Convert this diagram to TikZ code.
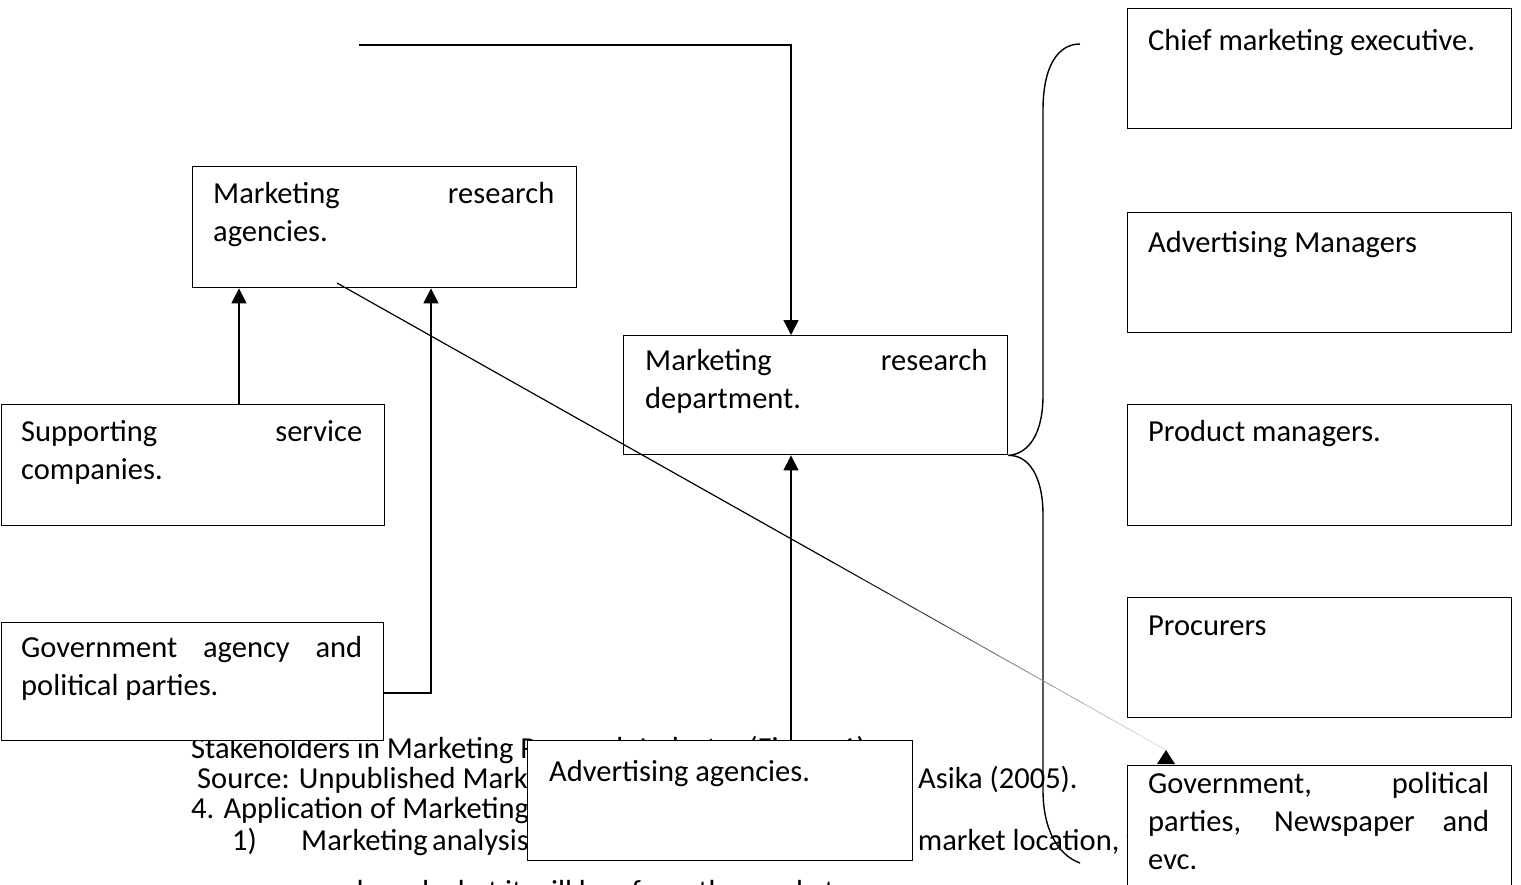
\documentclass[tikz,border=0pt]{standalone}
\usepackage{fontspec}
\setmainfont{Carlito}
\usetikzlibrary{arrows.meta,calc}
\begin{document}
\begin{tikzpicture}[x=1pt,y=-1pt,
  box/.style={draw=black,line width=1.4pt,fill=white,inner sep=0pt,anchor=north west},
  lbl/.style={anchor=base west,inner sep=0pt,font=\fontsize{30.5}{38}\selectfont},
  note/.style={anchor=base west,inner sep=0pt,font=\fontsize{30.5}{30}\selectfont},
  conn/.style={line width=1.4pt},
  arr/.style={conn,-{Triangle[length=15pt,width=15pt]}}
]
\useasboundingbox (0,0) rectangle (1521,884);
\clip (0,0) rectangle (1521,884);

% running text below the figure (partly hidden by boxes)
\node[note] (n1) at (191,758) {Stakeholders in Marketing Research Industry (Figure 1)};
\node[note] (n2) at (197,788) {\makebox[721pt][l]{Source: Unpublished Marketing Research Lecture by}Asika (2005).};
\node[note] (n3) at (191,818) {4. Application of Marketing Research};
\node[note] (n4) at (232,850) {\makebox[69pt][l]{1)}{\spaceskip=2pt plus 20pt\makebox[610pt][s]{Marketing analysis: It involves identification of the}} market location, what};
\node[note] (n5) at (301,901) {needs and what it will buy from the market.};

% boxes
\node[box, minimum width=384pt, minimum height=121pt] (mra) at (192,166) {};
\node[box, minimum width=383pt, minimum height=121pt] (ssc) at (1,404) {};
\node[box, minimum width=382pt, minimum height=118pt] (gap) at (1,622) {};
\node[box, minimum width=384pt, minimum height=119pt] (mrd) at (623,335) {};
\node[box, minimum width=385pt, minimum height=120pt] (ada) at (527,740) {};
\node[box, minimum width=384pt, minimum height=120pt] (cme) at (1127,8) {};
\node[box, minimum width=384pt, minimum height=120pt] (adm) at (1127,212) {};
\node[box, minimum width=384pt, minimum height=121pt] (pm) at (1127,404) {};
\node[box, minimum width=384pt, minimum height=120pt] (pro) at (1127,597) {};
\node[box, minimum width=384pt, minimum height=200pt] (gov) at (1127,765) {};

% box texts
\node[lbl] (mraT) at (213,203) {\parbox[t]{341pt}{\makebox[341pt][s]{Marketing research}\\agencies.}};
\node[lbl] (sscT) at (21,441) {\parbox[t]{341pt}{\makebox[341pt][s]{Supporting service}\\companies.}};
\node[lbl] (gapT) at (21,657) {\parbox[t]{341pt}{\makebox[341pt][s]{Government agency and}\\political parties.}};
\node[lbl] (mrdT) at (645,370) {\parbox[t]{342pt}{\makebox[342pt][s]{Marketing research}\\department.}};
\node[lbl] (adaT) at (549,781) {Advertising agencies.};
\node[lbl] (cmeT) at (1148,50) {Chief marketing executive.};
\node[lbl] (admT) at (1148,252) {Advertising Managers};
\node[lbl] (pmT) at (1148,441) {Product managers.};
\node[lbl] (proT) at (1148,635) {Procurers};
\node[lbl] (govT) at (1148,793) {\parbox[t]{341pt}{\makebox[341pt][s]{Government, political}\\\makebox[341pt][s]{parties, Newspaper and}\\evc.}};

% connectors
\coordinate (topstart) at (359,45);
\coordinate (c1) at (791,45);
\draw[arr] (topstart) -- (c1) -- (c1 |- mrd.north);

\coordinate (s1) at (239,0);
\draw[arr] (s1 |- ssc.north) -- (s1 |- mra.south);

\coordinate (g1) at (431,693);
\draw[arr] (gap.east |- g1) -- (g1) -- (g1 |- mra.south);

\coordinate (a1) at (791,0);
\draw[arr] (a1 |- ada.north) -- (a1 |- mrd.south);

% braces from the department
\draw[conn] (mrd.south east) .. controls (1028,454) and (1043,435) .. (1043,395)
  -- (1043,110) .. controls (1043,66) and (1058,44) .. (1080,44);
\draw[conn] (mrd.south east) .. controls (1028,455) and (1043,475) .. (1043,515)
  -- (1043,790) .. controls (1043,830) and (1058,855) .. (1080,863);

% fading diagonal connector to the government box
\coordinate (d0) at (337,283);
\coordinate (d1) at (1166,750);
\foreach \i in {0,...,29}{
  \pgfmathsetmacro\c{\i<18 ? 100 : 100-(\i-17)*7}
  \pgfmathsetmacro\w{\i<18 ? 1.2 : 1.2-(\i-17)*0.05}
  \draw[line width=\w pt, black!\c] ($(d0)!{\i/30}!(d1)$) -- ($(d0)!{(\i+1)/30}!(d1)$);
}
\fill (d1) -- ++(9,14) -- ++(-18,0) -- cycle;
\end{tikzpicture}
\end{document}
